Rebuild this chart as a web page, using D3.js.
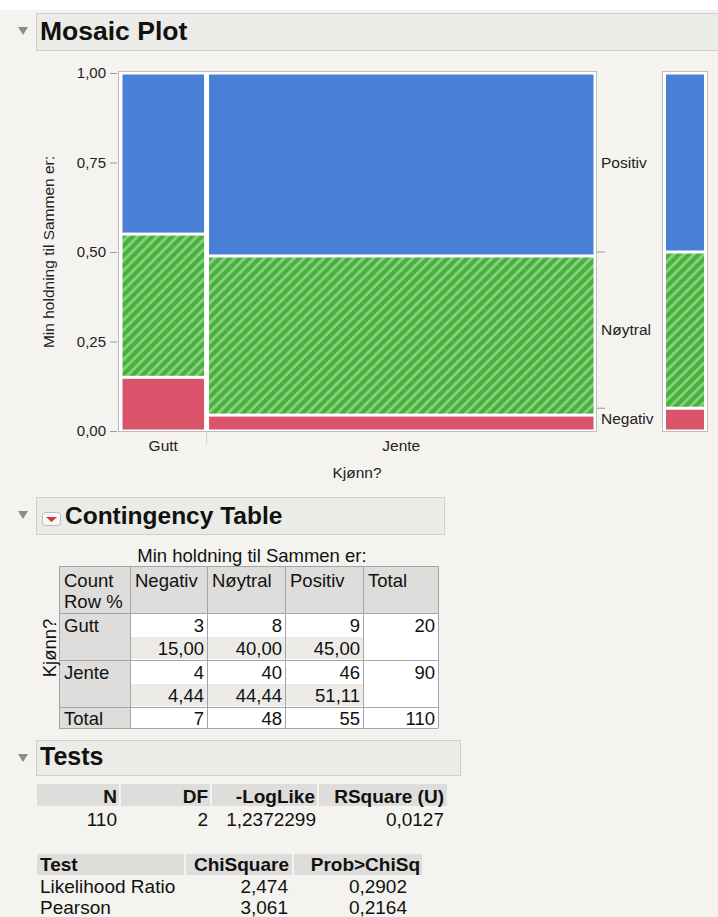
<!DOCTYPE html>
<html>
<head>
<meta charset="utf-8">
<title>Mosaic Plot</title>
<script src="https://d3js.org/d3.v7.min.js"></script>
<style>
  body { margin: 0; background: #fff; }
  svg { display: block; font-family: "Liberation Sans", Arial, sans-serif; }
</style>
</head>
<body>
<svg id="chart" width="718" height="917"></svg>
<script>
// data
var genders = ["Gutt", "Jente"];
var responses = ["Negativ", "Nøytral", "Positiv"];
var countsGutt = [3, 8, 9];
var countsJente = [4, 40, 46];
var yTicks = [0, 0.25, 0.5, 0.75, 1];

var testCols = ["N", "DF", "-LogLike", "RSquare (U)"];
var testVals = ["110", "2", "1,2372299", "0,0127"];
var chiCols = ["Test", "ChiSquare", "Prob>ChiSq"];
var chiRows = ["Likelihood Ratio", "Pearson"];
var chiSquare = ["2,474", "3,061"];
var probChi = ["0,2902", "0,2164"];

var colors = {"Negativ": "#d9536a", "Nøytral": "url(#stripes)", "Positiv": "#4a7fd6"};
var comma = function(f) { return function(v) { return d3.format(f)(v).replace(".", ","); }; };

var svg = d3.select("#chart");
svg.append("rect").attr("x", 0).attr("y", 10).attr("width", 718).attr("height", 907).attr("fill", "#f4f3ef");

// stripe pattern for Nøytral
var pat = svg.append("defs").append("pattern")
  .attr("id", "stripes").attr("patternUnits", "userSpaceOnUse")
  .attr("width", 7).attr("height", 10).attr("patternTransform", "rotate(45)");
pat.append("rect").attr("width", 7).attr("height", 10).attr("fill", "#86cf7d");
pat.append("rect").attr("width", 4).attr("height", 10).attr("fill", "#48b03c");

function header(y0, h, x1, label, size, textX, icon) {
  svg.append("path")
    .attr("d", "M18," + (y0 + 14) + "L28," + (y0 + 14) + "L23," + (y0 + 22) + "Z")
    .attr("fill", "#8c8c8c");
  svg.append("rect").attr("x", 36.5).attr("y", y0 + 0.5).attr("width", x1 - 36).attr("height", h)
    .attr("fill", "#ebebe7").attr("stroke", "#cfcfcb");
  if (icon) {
    svg.append("rect").attr("x", 42.5).attr("y", y0 + 15.5).attr("width", 18).attr("height", 13).attr("rx", 3)
      .attr("fill", "#f7f7f7").attr("stroke", "#b9b9b9");
    svg.append("path").attr("d", "M46," + (y0 + 20) + "L57," + (y0 + 20) + "L51.5," + (y0 + 25) + "Z").attr("fill", "#d8323a");
  }
  svg.append("text").attr("x", textX).attr("y", y0 + h - 10).attr("font-size", size)
    .attr("font-weight", "bold").attr("fill", "#111").text(label);
}

// ---------- Mosaic Plot ----------
header(13, 37, 718, "Mosaic Plot", 26.5, 40, false);

var counts = [countsGutt, countsJente];
var rowTotals = counts.map(function(r) { return d3.sum(r); });
var colTotals = responses.map(function(r, j) { return d3.sum(counts, function(c) { return c[j]; }); });
var grand = d3.sum(rowTotals);

var x = d3.scaleLinear().domain([0, grand]).range([120, 596]);
var y = d3.scaleLinear().domain([0, 1]).range([431, 73]);

svg.append("rect").attr("x", 118.5).attr("y", 71.5).attr("width", 478).attr("height", 360)
  .attr("fill", "#fff").attr("stroke", "#bdbdbd");

var cells = [];
var cx = 0;
counts.forEach(function(row, i) {
  var cp = 0;
  row.forEach(function(v, j) {
    cells.push({g: genders[i], r: responses[j], x0: cx, x1: cx + rowTotals[i], p0: cp / rowTotals[i], p1: (cp + v) / rowTotals[i]});
    cp += v;
  });
  cx += rowTotals[i];
});

svg.selectAll(".cell").data(cells).enter().append("rect")
  .attr("class", "cell")
  .attr("x", function(d) { return x(d.x0) + 2.5; })
  .attr("width", function(d) { return x(d.x1) - x(d.x0) - 5; })
  .attr("y", function(d) { return y(d.p1) + 1.5; })
  .attr("height", function(d) { return y(d.p0) - y(d.p1) - 3; })
  .attr("fill", function(d) { return colors[d.r]; });

// y axis
var yAxis = svg.append("g").attr("transform", "translate(117,0)")
  .call(d3.axisLeft(y).tickValues(yTicks).tickSize(7).tickPadding(4).tickFormat(comma(".2f")));
yAxis.select(".domain").remove();
yAxis.selectAll("line").attr("stroke", "#9a9a9a");
yAxis.selectAll("text").attr("font-size", 15).attr("fill", "#222").attr("font-family", "Liberation Sans, Arial, sans-serif");

svg.append("text").attr("transform", "translate(54,252) rotate(-90)")
  .attr("text-anchor", "middle").attr("font-size", 15.5).attr("fill", "#222")
  .text("Min holdning til Sammen er:");

// x labels
var xs = 0;
genders.forEach(function(g, i) {
  svg.append("text").attr("x", x(xs + rowTotals[i] / 2)).attr("y", 451)
    .attr("text-anchor", "middle").attr("font-size", 15.5).attr("fill", "#222").text(g);
  xs += rowTotals[i];
  if (i < genders.length - 1) {
    svg.append("line").attr("x1", x(xs)).attr("x2", x(xs)).attr("y1", 432).attr("y2", 444)
      .attr("stroke", "#cfcfcf");
  }
});
svg.append("text").attr("x", 357).attr("y", 478).attr("text-anchor", "middle")
  .attr("font-size", 15.5).attr("fill", "#222").text("Kjønn?");

// marginal bar on the right
svg.append("rect").attr("x", 662.5).attr("y", 71.5).attr("width", 45).attr("height", 360)
  .attr("fill", "#fff").attr("stroke", "#bdbdbd");
var marg = [];
var mp = 0;
responses.forEach(function(r, j) {
  marg.push({r: r, p0: mp / grand, p1: (mp + colTotals[j]) / grand});
  mp += colTotals[j];
});
svg.selectAll(".marg").data(marg).enter().append("rect")
  .attr("class", "marg")
  .attr("x", 666).attr("width", 38)
  .attr("y", function(d) { return y(d.p1) + 1.5; })
  .attr("height", function(d) { return y(d.p0) - y(d.p1) - 3; })
  .attr("fill", function(d) { return colors[d.r]; });

svg.selectAll(".rtick").data(marg.slice(0, -1)).enter().append("line")
  .attr("class", "rtick")
  .attr("x1", 597).attr("x2", 605)
  .attr("y1", function(d) { return y(d.p1); }).attr("y2", function(d) { return y(d.p1); })
  .attr("stroke", "#9a9a9a");
svg.selectAll(".rlab").data(marg).enter().append("text")
  .attr("class", "rlab")
  .attr("x", 601)
  .attr("y", function(d, i) { return i == 0 ? y(d.p1) + 16 : y((d.p0 + d.p1) / 2) + 5; })
  .attr("font-size", 15.5).attr("fill", "#222")
  .text(function(d) { return d.r; });

// ---------- Contingency Table ----------
header(497, 37, 444, "Contingency Table", 24.5, 65, true);

svg.append("text").attr("x", 252).attr("y", 562).attr("text-anchor", "middle")
  .attr("font-size", 18.5).attr("fill", "#111").text("Min holdning til Sammen er:");

var colX = [59, 130, 207, 285, 363, 438];
var rowY = [566, 613, 660, 707, 728];
var gray = "#dedddb";

// cell fills
svg.append("rect").attr("x", 59).attr("y", 566).attr("width", 379).attr("height", 47).attr("fill", gray);
svg.append("rect").attr("x", 59).attr("y", 613).attr("width", 71).attr("height", 115).attr("fill", gray);
svg.append("rect").attr("x", 130).attr("y", 613).attr("width", 308).attr("height", 115).attr("fill", "#fff");
[0, 1].forEach(function(i) {
  svg.append("rect").attr("x", 130).attr("y", rowY[i + 1] + 24).attr("width", 233).attr("height", 22).attr("fill", "#ecebe8");
});

// grid
colX.forEach(function(cxv) {
  svg.append("line").attr("x1", cxv + 0.5).attr("x2", cxv + 0.5).attr("y1", 566).attr("y2", 728).attr("stroke", "#a5a5a5");
});
rowY.forEach(function(ry) {
  svg.append("line").attr("x1", 59).attr("x2", 438).attr("y1", ry + 0.5).attr("y2", ry + 0.5).attr("stroke", "#a5a5a5");
});

var tfs = 18.5;
function ttext(xp, yp, s, anchor) {
  svg.append("text").attr("x", xp).attr("y", yp).attr("font-size", tfs).attr("fill", "#111")
    .attr("text-anchor", anchor || "start").text(s);
}
ttext(64, 587, "Count");
ttext(64, 608, "Row %");
responses.concat(["Total"]).forEach(function(r, j) { ttext(colX[j + 1] + 5, 587, r); });

counts.forEach(function(row, i) {
  var by = rowY[i + 1];
  ttext(64, by + 19, genders[i]);
  row.forEach(function(v, j) {
    ttext(colX[j + 2] - 3, by + 19, v, "end");
    ttext(colX[j + 2] - 3, by + 42, comma(".2f")(100 * v / rowTotals[i]), "end");
  });
  ttext(colX[5] - 3, by + 19, rowTotals[i], "end");
});
ttext(64, 725, "Total");
colTotals.forEach(function(v, j) { ttext(colX[j + 2] - 3, 725, v, "end"); });
ttext(colX[5] - 3, 725, grand, "end");

svg.append("text").attr("transform", "translate(56,648) rotate(-90)")
  .attr("text-anchor", "middle").attr("font-size", tfs).attr("fill", "#111").text("Kjønn?");

// ---------- Tests ----------
header(740, 35, 460, "Tests", 25, 40, false);

var fs2 = 19;
var t1Right = [117, 208, 315, 444];
var t1Left = [37, 121, 212, 319];
t1Right.forEach(function(r, i) {
  svg.append("rect").attr("x", t1Left[i]).attr("y", 784).attr("width", (i < 3 ? t1Left[i + 1] - 2 : 447) - t1Left[i])
    .attr("height", 22).attr("fill", gray);
  svg.append("text").attr("x", r).attr("y", 803).attr("text-anchor", "end").attr("font-size", fs2)
    .attr("font-weight", "bold").attr("fill", "#111").text(testCols[i]);
  svg.append("text").attr("x", r + (i == 2 ? 1 : 0)).attr("y", 826).attr("text-anchor", "end").attr("font-size", fs2)
    .attr("fill", "#111").text(testVals[i]);
});

var t2Left = [37, 186, 294];
var t2Right = [184, 292, 422];
t2Left.forEach(function(l, i) {
  svg.append("rect").attr("x", l).attr("y", 854).attr("width", t2Right[i] - l).attr("height", 21).attr("fill", gray);
});
svg.append("text").attr("x", 40).attr("y", 871).attr("font-size", fs2).attr("font-weight", "bold").attr("fill", "#111").text(chiCols[0]);
svg.append("text").attr("x", 289).attr("y", 871).attr("text-anchor", "end").attr("font-size", fs2).attr("font-weight", "bold").attr("fill", "#111").text(chiCols[1]);
svg.append("text").attr("x", 420).attr("y", 871).attr("text-anchor", "end").attr("font-size", fs2).attr("font-weight", "bold").attr("fill", "#111").text(chiCols[2]);

chiRows.forEach(function(r, i) {
  var by = 893 + i * 21;
  svg.append("text").attr("x", 40).attr("y", by).attr("font-size", fs2).attr("fill", "#111").text(r);
  svg.append("text").attr("x", 288).attr("y", by).attr("text-anchor", "end").attr("font-size", fs2).attr("fill", "#111").text(chiSquare[i]);
  svg.append("text").attr("x", 407).attr("y", by).attr("text-anchor", "end").attr("font-size", fs2).attr("fill", "#111").text(probChi[i]);
});
</script>
</body>
</html>
